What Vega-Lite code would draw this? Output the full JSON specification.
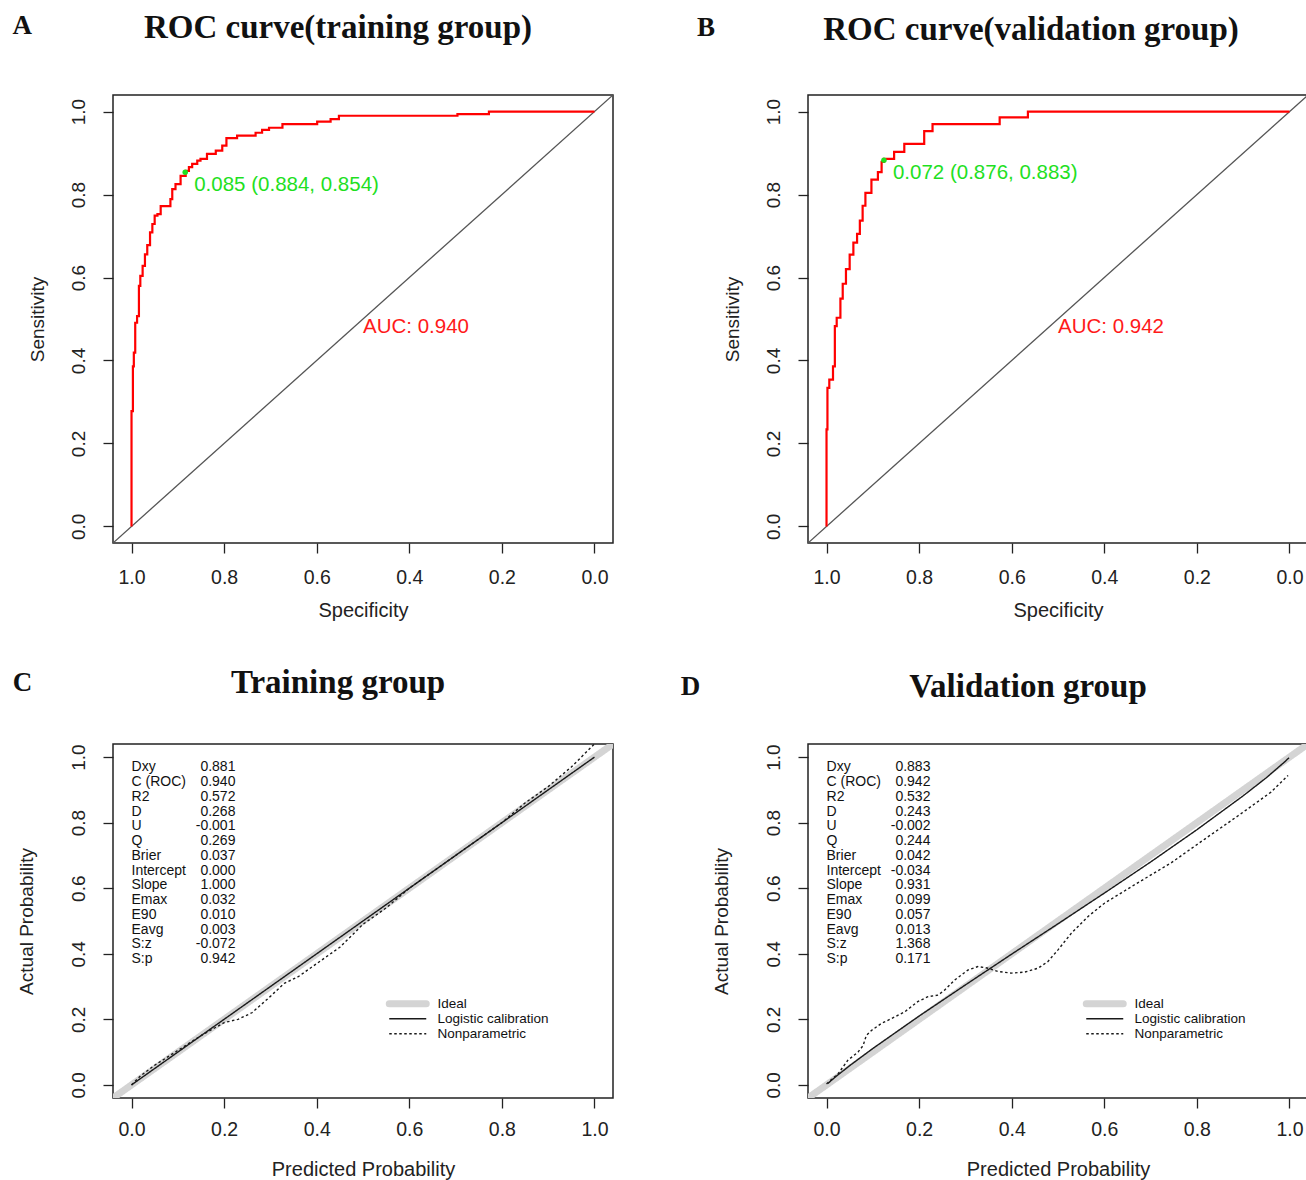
{
  "$schema": "https://vega.github.io/schema/vega-lite/v6.json",
  "autosize": {"type": "none"},
  "padding": {"left": 113, "top": 95, "right": 1193, "bottom": 1085},
  "background": "white",
  "config": {
    "font": "Liberation Sans",
    "view": {"stroke": "#222", "strokeWidth": 1.5},
    "axis": {"grid": false, "domain": false, "tickColor": "#222", "tickSize": 10, "tickWidth": 1.3, "labelFont": "Liberation Sans", "labelFontSize": 19.5, "labelColor": "#222", "titleFont": "Liberation Sans", "titleFontSize": 20, "titleFontWeight": "normal", "titleColor": "#222", "labelFlush": false, "labelOverlap": false},
    "axisY": {"labelAngle": 270, "labelAlign": "center", "labelBaseline": "bottom", "titleFontSize": 19, "labelFontSize": 19},
    "title": {"font": "Liberation Serif", "fontSize": 33, "fontWeight": "bold", "color": "#111", "anchor": "middle"},
    "legend": {"labelFont": "Liberation Sans"}
  },
  "datasets": {
    "rocA": [
      {"x": 1.0, "y": 0.0}, {"x": 0.997, "y": 0.278}, {"x": 0.995, "y": 0.386}, {"x": 0.992, "y": 0.419},
      {"x": 0.988, "y": 0.491}, {"x": 0.984, "y": 0.507}, {"x": 0.981, "y": 0.58}, {"x": 0.976, "y": 0.604},
      {"x": 0.971, "y": 0.628}, {"x": 0.966, "y": 0.656}, {"x": 0.96, "y": 0.678}, {"x": 0.955, "y": 0.709},
      {"x": 0.95, "y": 0.729}, {"x": 0.944, "y": 0.749}, {"x": 0.937, "y": 0.753}, {"x": 0.916, "y": 0.772},
      {"x": 0.912, "y": 0.789}, {"x": 0.905, "y": 0.813}, {"x": 0.894, "y": 0.825}, {"x": 0.883, "y": 0.845},
      {"x": 0.876, "y": 0.857}, {"x": 0.869, "y": 0.866}, {"x": 0.858, "y": 0.874}, {"x": 0.851, "y": 0.882},
      {"x": 0.837, "y": 0.886}, {"x": 0.818, "y": 0.898}, {"x": 0.804, "y": 0.906}, {"x": 0.795, "y": 0.918},
      {"x": 0.772, "y": 0.936}, {"x": 0.732, "y": 0.942}, {"x": 0.718, "y": 0.949}, {"x": 0.703, "y": 0.956},
      {"x": 0.674, "y": 0.961}, {"x": 0.599, "y": 0.97}, {"x": 0.57, "y": 0.976}, {"x": 0.552, "y": 0.982},
      {"x": 0.296, "y": 0.99}, {"x": 0.228, "y": 0.994}, {"x": 0.0, "y": 1.0}
    ],
    "rocB": [
      {"x": 1.0, "y": 0.0}, {"x": 0.998, "y": 0.234}, {"x": 0.994, "y": 0.334}, {"x": 0.986, "y": 0.354},
      {"x": 0.982, "y": 0.386}, {"x": 0.978, "y": 0.483}, {"x": 0.97, "y": 0.503}, {"x": 0.965, "y": 0.549},
      {"x": 0.958, "y": 0.585}, {"x": 0.95, "y": 0.62}, {"x": 0.942, "y": 0.655}, {"x": 0.934, "y": 0.684},
      {"x": 0.928, "y": 0.705}, {"x": 0.922, "y": 0.737}, {"x": 0.916, "y": 0.773}, {"x": 0.903, "y": 0.804},
      {"x": 0.889, "y": 0.836}, {"x": 0.881, "y": 0.854}, {"x": 0.876, "y": 0.879}, {"x": 0.854, "y": 0.886},
      {"x": 0.832, "y": 0.903}, {"x": 0.789, "y": 0.922}, {"x": 0.771, "y": 0.953}, {"x": 0.626, "y": 0.97},
      {"x": 0.565, "y": 0.986}, {"x": 0.0, "y": 1.0}
    ],
    "diag": [{"x": 1.04, "y": -0.04}, {"x": -0.04, "y": 1.04}],
    "calC": [
      {"curve": "Ideal", "x": -0.04, "y": -0.04}, {"curve": "Ideal", "x": 1.04, "y": 1.04},
      {"curve": "Logistic calibration", "x": 0.0, "y": 0.0}, {"curve": "Logistic calibration", "x": 1.0, "y": 1.0},
      {"curve": "Nonparametric", "x": 0.0, "y": 0.0}, {"curve": "Nonparametric", "x": 0.02, "y": 0.028},
      {"curve": "Nonparametric", "x": 0.05, "y": 0.06}, {"curve": "Nonparametric", "x": 0.1, "y": 0.105},
      {"curve": "Nonparametric", "x": 0.15, "y": 0.15}, {"curve": "Nonparametric", "x": 0.2, "y": 0.19},
      {"curve": "Nonparametric", "x": 0.23, "y": 0.2}, {"curve": "Nonparametric", "x": 0.26, "y": 0.22},
      {"curve": "Nonparametric", "x": 0.3, "y": 0.27}, {"curve": "Nonparametric", "x": 0.33, "y": 0.31},
      {"curve": "Nonparametric", "x": 0.36, "y": 0.33}, {"curve": "Nonparametric", "x": 0.4, "y": 0.37},
      {"curve": "Nonparametric", "x": 0.45, "y": 0.42}, {"curve": "Nonparametric", "x": 0.5, "y": 0.49},
      {"curve": "Nonparametric", "x": 0.55, "y": 0.54}, {"curve": "Nonparametric", "x": 0.6, "y": 0.6},
      {"curve": "Nonparametric", "x": 0.65, "y": 0.65}, {"curve": "Nonparametric", "x": 0.7, "y": 0.7},
      {"curve": "Nonparametric", "x": 0.75, "y": 0.75}, {"curve": "Nonparametric", "x": 0.8, "y": 0.8},
      {"curve": "Nonparametric", "x": 0.85, "y": 0.86}, {"curve": "Nonparametric", "x": 0.9, "y": 0.91},
      {"curve": "Nonparametric", "x": 0.95, "y": 0.97}, {"curve": "Nonparametric", "x": 1.0, "y": 1.04}
    ],
    "calD": [
      {"curve": "Ideal", "x": -0.04, "y": -0.04}, {"curve": "Ideal", "x": 1.04, "y": 1.04},
      {"curve": "Logistic calibration", "x": 0.003, "y": 0.0043}, {"curve": "Logistic calibration", "x": 0.01, "y": 0.0132},
      {"curve": "Logistic calibration", "x": 0.02, "y": 0.0252}, {"curve": "Logistic calibration", "x": 0.05, "y": 0.0587},
      {"curve": "Logistic calibration", "x": 0.1, "y": 0.111}, {"curve": "Logistic calibration", "x": 0.2, "y": 0.21},
      {"curve": "Logistic calibration", "x": 0.3, "y": 0.305}, {"curve": "Logistic calibration", "x": 0.4, "y": 0.399},
      {"curve": "Logistic calibration", "x": 0.5, "y": 0.4915}, {"curve": "Logistic calibration", "x": 0.6, "y": 0.585},
      {"curve": "Logistic calibration", "x": 0.7, "y": 0.68}, {"curve": "Logistic calibration", "x": 0.8, "y": 0.7785},
      {"curve": "Logistic calibration", "x": 0.9, "y": 0.882}, {"curve": "Logistic calibration", "x": 0.95, "y": 0.937},
      {"curve": "Logistic calibration", "x": 0.99, "y": 0.986}, {"curve": "Logistic calibration", "x": 0.999, "y": 0.998},
      {"curve": "Nonparametric", "x": 0.0, "y": 0.003}, {"curve": "Nonparametric", "x": 0.025, "y": 0.034},
      {"curve": "Nonparametric", "x": 0.046, "y": 0.075}, {"curve": "Nonparametric", "x": 0.068, "y": 0.1},
      {"curve": "Nonparametric", "x": 0.079, "y": 0.12}, {"curve": "Nonparametric", "x": 0.086, "y": 0.151},
      {"curve": "Nonparametric", "x": 0.097, "y": 0.166}, {"curve": "Nonparametric", "x": 0.118, "y": 0.187},
      {"curve": "Nonparametric", "x": 0.147, "y": 0.207}, {"curve": "Nonparametric", "x": 0.169, "y": 0.223},
      {"curve": "Nonparametric", "x": 0.197, "y": 0.254}, {"curve": "Nonparametric", "x": 0.219, "y": 0.269},
      {"curve": "Nonparametric", "x": 0.241, "y": 0.274}, {"curve": "Nonparametric", "x": 0.255, "y": 0.289},
      {"curve": "Nonparametric", "x": 0.277, "y": 0.32}, {"curve": "Nonparametric", "x": 0.305, "y": 0.35},
      {"curve": "Nonparametric", "x": 0.327, "y": 0.361}, {"curve": "Nonparametric", "x": 0.349, "y": 0.356},
      {"curve": "Nonparametric", "x": 0.37, "y": 0.346}, {"curve": "Nonparametric", "x": 0.399, "y": 0.341},
      {"curve": "Nonparametric", "x": 0.428, "y": 0.344}, {"curve": "Nonparametric", "x": 0.457, "y": 0.356},
      {"curve": "Nonparametric", "x": 0.478, "y": 0.376}, {"curve": "Nonparametric", "x": 0.5, "y": 0.412},
      {"curve": "Nonparametric", "x": 0.529, "y": 0.463}, {"curve": "Nonparametric", "x": 0.565, "y": 0.514},
      {"curve": "Nonparametric", "x": 0.601, "y": 0.555}, {"curve": "Nonparametric", "x": 0.637, "y": 0.586},
      {"curve": "Nonparametric", "x": 0.673, "y": 0.617}, {"curve": "Nonparametric", "x": 0.745, "y": 0.678},
      {"curve": "Nonparametric", "x": 0.817, "y": 0.75}, {"curve": "Nonparametric", "x": 0.889, "y": 0.821},
      {"curve": "Nonparametric", "x": 0.96, "y": 0.893}, {"curve": "Nonparametric", "x": 0.997, "y": 0.944}
    ],
    "spikeC": [
      {"x": 0.002, "h": 0.152}, {"x": 0.009, "h": 0.04}, {"x": 0.015, "h": 0.022}, {"x": 0.021, "h": 0.012},
      {"x": 0.028, "h": 0.008}, {"x": 0.035, "h": 0.007}, {"x": 0.043, "h": 0.006}, {"x": 0.05, "h": 0.006},
      {"x": 0.058, "h": 0.006}, {"x": 0.066, "h": 0.006}, {"x": 0.073, "h": 0.006}, {"x": 0.081, "h": 0.006},
      {"x": 0.089, "h": 0.006}, {"x": 0.097, "h": 0.006}, {"x": 0.105, "h": 0.006}, {"x": 0.113, "h": 0.006},
      {"x": 0.121, "h": 0.006}, {"x": 0.13, "h": 0.006}, {"x": 0.138, "h": 0.006}, {"x": 0.147, "h": 0.006},
      {"x": 0.155, "h": 0.006}, {"x": 0.164, "h": 0.006}, {"x": 0.172, "h": 0.006}, {"x": 0.181, "h": 0.006},
      {"x": 0.19, "h": 0.006}, {"x": 0.199, "h": 0.006}, {"x": 0.208, "h": 0.006}, {"x": 0.218, "h": 0.006},
      {"x": 0.227, "h": 0.006}, {"x": 0.237, "h": 0.006}, {"x": 0.247, "h": 0.006}, {"x": 0.257, "h": 0.006},
      {"x": 0.268, "h": 0.006}, {"x": 0.279, "h": 0.006}, {"x": 0.29, "h": 0.006}, {"x": 0.318, "h": 0.006},
      {"x": 0.328, "h": 0.006}, {"x": 0.338, "h": 0.006}, {"x": 0.36, "h": 0.006}, {"x": 0.372, "h": 0.006},
      {"x": 0.384, "h": 0.006}, {"x": 0.396, "h": 0.006}, {"x": 0.43, "h": 0.006}, {"x": 0.47, "h": 0.006},
      {"x": 0.515, "h": 0.006}, {"x": 0.528, "h": 0.006}, {"x": 0.541, "h": 0.006}, {"x": 0.554, "h": 0.006},
      {"x": 0.567, "h": 0.006}, {"x": 0.58, "h": 0.006}, {"x": 0.593, "h": 0.006}, {"x": 0.606, "h": 0.006},
      {"x": 0.619, "h": 0.006}, {"x": 0.632, "h": 0.006}, {"x": 0.645, "h": 0.006}, {"x": 0.663, "h": 0.006},
      {"x": 0.699, "h": 0.006}, {"x": 0.731, "h": 0.006}, {"x": 0.742, "h": 0.006}, {"x": 0.754, "h": 0.006},
      {"x": 0.766, "h": 0.006}, {"x": 0.781, "h": 0.006}, {"x": 0.8, "h": 0.006}, {"x": 0.856, "h": 0.006},
      {"x": 0.868, "h": 0.006}, {"x": 0.88, "h": 0.006}, {"x": 0.892, "h": 0.006}, {"x": 0.904, "h": 0.006},
      {"x": 0.916, "h": 0.006}, {"x": 0.928, "h": 0.006}, {"x": 0.94, "h": 0.006}, {"x": 0.952, "h": 0.006},
      {"x": 0.964, "h": 0.006}, {"x": 0.976, "h": 0.006}, {"x": 0.988, "h": 0.006}, {"x": 0.994, "h": 0.006}
    ],
    "spikeD": [
      {"x": 0.0, "h": 0.148}, {"x": 0.007, "h": 0.036}, {"x": 0.014, "h": 0.015}, {"x": 0.021, "h": 0.008},
      {"x": 0.03, "h": 0.006}, {"x": 0.037, "h": 0.006}, {"x": 0.045, "h": 0.006}, {"x": 0.052, "h": 0.006},
      {"x": 0.06, "h": 0.006}, {"x": 0.067, "h": 0.006}, {"x": 0.075, "h": 0.006}, {"x": 0.083, "h": 0.006},
      {"x": 0.09, "h": 0.006}, {"x": 0.098, "h": 0.006}, {"x": 0.105, "h": 0.006}, {"x": 0.112, "h": 0.006},
      {"x": 0.12, "h": 0.006}, {"x": 0.128, "h": 0.006}, {"x": 0.135, "h": 0.006}, {"x": 0.142, "h": 0.006},
      {"x": 0.15, "h": 0.006}, {"x": 0.158, "h": 0.006}, {"x": 0.165, "h": 0.006}, {"x": 0.172, "h": 0.006},
      {"x": 0.18, "h": 0.006}, {"x": 0.188, "h": 0.006}, {"x": 0.195, "h": 0.006}, {"x": 0.202, "h": 0.006},
      {"x": 0.21, "h": 0.006}, {"x": 0.218, "h": 0.006}, {"x": 0.225, "h": 0.006}, {"x": 0.232, "h": 0.006},
      {"x": 0.24, "h": 0.006}, {"x": 0.248, "h": 0.006}, {"x": 0.262, "h": 0.006}, {"x": 0.28, "h": 0.006},
      {"x": 0.302, "h": 0.006}, {"x": 0.32, "h": 0.006}, {"x": 0.334, "h": 0.006}, {"x": 0.359, "h": 0.006},
      {"x": 0.381, "h": 0.006}, {"x": 0.392, "h": 0.006}, {"x": 0.403, "h": 0.006}, {"x": 0.413, "h": 0.006},
      {"x": 0.431, "h": 0.006}, {"x": 0.442, "h": 0.006}, {"x": 0.453, "h": 0.006}, {"x": 0.482, "h": 0.006},
      {"x": 0.503, "h": 0.006}, {"x": 0.521, "h": 0.006}, {"x": 0.529, "h": 0.006}, {"x": 0.611, "h": 0.006},
      {"x": 0.622, "h": 0.006}, {"x": 0.633, "h": 0.006}, {"x": 0.64, "h": 0.006}, {"x": 0.673, "h": 0.006},
      {"x": 0.752, "h": 0.006}, {"x": 0.773, "h": 0.006}, {"x": 0.784, "h": 0.006}, {"x": 0.795, "h": 0.006},
      {"x": 0.806, "h": 0.006}, {"x": 0.849, "h": 0.006}, {"x": 0.86, "h": 0.006}, {"x": 0.871, "h": 0.006},
      {"x": 0.881, "h": 0.006}, {"x": 0.921, "h": 0.006}, {"x": 0.939, "h": 0.006}, {"x": 0.95, "h": 0.006},
      {"x": 0.961, "h": 0.006}, {"x": 0.993, "h": 0.006}
    ],
    "statsC": [{"x": 0, "xv": 0.2245, "y": 0.99, "labels": "Dxy\nC (ROC)\nR2\nD\nU\nQ\nBrier\nIntercept\nSlope\nEmax\nE90\nEavg\nS:z\nS:p", "vals": "0.881\n0.940\n0.572\n0.268\n-0.001\n0.269\n0.037\n0.000\n1.000\n0.032\n0.010\n0.003\n-0.072\n0.942"}],
    "statsD": [{"x": 0, "xv": 0.2245, "y": 0.99, "labels": "Dxy\nC (ROC)\nR2\nD\nU\nQ\nBrier\nIntercept\nSlope\nEmax\nE90\nEavg\nS:z\nS:p", "vals": "0.883\n0.942\n0.532\n0.243\n-0.002\n0.244\n0.042\n-0.034\n0.931\n0.099\n0.057\n0.013\n1.368\n0.171"}]
  },
  "columns": 2,
  "spacing": {"row": 201, "column": 195},
  "bounds": "flush",
  "resolve": {
    "scale": {"x": "independent", "y": "independent", "color": "independent", "strokeWidth": "independent", "strokeDash": "independent"},
    "legend": {"color": "independent", "strokeWidth": "independent", "strokeDash": "independent"}
  },
  "concat": [
    {
      "width": 500, "height": 448,
      "title": {"text": "ROC curve(training group)", "dx": -25, "offset": -33},
      "encoding": {
        "x": {"field": "x", "type": "quantitative", "scale": {"domain": [-0.04, 1.04], "reverse": true, "nice": false, "zero": false}, "axis": {"title": "Specificity", "values": [0, 0.2, 0.4, 0.6, 0.8, 1], "format": ".1f", "labelPadding": 15, "titlePadding": 14}},
        "y": {"field": "y", "type": "quantitative", "scale": {"domain": [-0.04, 1.04], "nice": false, "zero": false}, "axis": {"title": "Sensitivity", "values": [0, 0.2, 0.4, 0.6, 0.8, 1], "format": ".1f", "labelPadding": 15, "titlePadding": 22}}
      },
      "layer": [
        {"data": {"name": "diag"}, "mark": {"type": "line", "color": "#555", "strokeWidth": 1.3, "clip": true}},
        {"data": {"name": "rocA"}, "mark": {"type": "line", "interpolate": "step-before", "color": "#ff0000", "strokeWidth": 2.2}, "encoding": {"order": {"field": "x", "sort": "descending"}}},
        {"data": {"values": [{"x": 0.884, "y": 0.854, "label": "0.085 (0.884, 0.854)"}]}, "mark": {"type": "point", "filled": true, "color": "#1fe01f", "size": 30, "opacity": 1}},
        {"data": {"values": [{"x": 0.884, "y": 0.854, "label": "0.085 (0.884, 0.854)"}]}, "mark": {"type": "text", "align": "left", "baseline": "middle", "dx": 9, "dy": 13, "fontSize": 20.5, "color": "#1fe01f"}, "encoding": {"text": {"field": "label"}}},
        {"data": {"values": [{"x": 0.5, "y": 0.48, "label": "AUC: 0.940"}]}, "mark": {"type": "text", "align": "left", "baseline": "middle", "fontSize": 20.5, "color": "#ff1a1a"}, "encoding": {"text": {"field": "label"}}},
        {"data": {"values": [{"x": 1.257, "y": 1.207, "label": "A"}]}, "mark": {"type": "text", "align": "left", "baseline": "middle", "font": "Liberation Serif", "fontWeight": "bold", "fontSize": 27, "color": "#111"}, "encoding": {"text": {"field": "label"}}}
      ]
    },
    {
      "width": 500, "height": 448,
      "title": {"text": "ROC curve(validation group)", "dx": -27, "offset": -33},
      "encoding": {
        "x": {"field": "x", "type": "quantitative", "scale": {"domain": [-0.04, 1.04], "reverse": true, "nice": false, "zero": false}, "axis": {"title": "Specificity", "values": [0, 0.2, 0.4, 0.6, 0.8, 1], "format": ".1f", "labelPadding": 15, "titlePadding": 14}},
        "y": {"field": "y", "type": "quantitative", "scale": {"domain": [-0.04, 1.04], "nice": false, "zero": false}, "axis": {"title": "Sensitivity", "values": [0, 0.2, 0.4, 0.6, 0.8, 1], "format": ".1f", "labelPadding": 15, "titlePadding": 22}}
      },
      "layer": [
        {"data": {"name": "diag"}, "mark": {"type": "line", "color": "#555", "strokeWidth": 1.3, "clip": true}},
        {"data": {"name": "rocB"}, "mark": {"type": "line", "interpolate": "step-before", "color": "#ff0000", "strokeWidth": 2.2}, "encoding": {"order": {"field": "x", "sort": "descending"}}},
        {"data": {"values": [{"x": 0.876, "y": 0.883, "label": "0.072 (0.876, 0.883)"}]}, "mark": {"type": "point", "filled": true, "color": "#1fe01f", "size": 30, "opacity": 1}},
        {"data": {"values": [{"x": 0.876, "y": 0.883, "label": "0.072 (0.876, 0.883)"}]}, "mark": {"type": "text", "align": "left", "baseline": "middle", "dx": 9, "dy": 13, "fontSize": 20.5, "color": "#1fe01f"}, "encoding": {"text": {"field": "label"}}},
        {"data": {"values": [{"x": 0.5, "y": 0.48, "label": "AUC: 0.942"}]}, "mark": {"type": "text", "align": "left", "baseline": "middle", "fontSize": 20.5, "color": "#ff1a1a"}, "encoding": {"text": {"field": "label"}}},
        {"data": {"values": [{"x": 1.28, "y": 1.202, "label": "B"}]}, "mark": {"type": "text", "align": "left", "baseline": "middle", "font": "Liberation Serif", "fontWeight": "bold", "fontSize": 27, "color": "#111"}, "encoding": {"text": {"field": "label"}}}
      ]
    },
    {
      "width": 500, "height": 354,
      "title": {"text": "Training group", "dx": -25, "offset": -31},
      "encoding": {
        "x": {"field": "x", "type": "quantitative", "scale": {"domain": [-0.04, 1.04], "nice": false, "zero": false}, "axis": {"title": "Predicted Probability", "values": [0, 0.2, 0.4, 0.6, 0.8, 1], "format": ".1f", "labelPadding": 12, "titlePadding": 21}},
        "y": {"field": "y", "type": "quantitative", "scale": {"domain": [-0.04, 1.04], "nice": false, "zero": false}, "axis": {"title": "Actual Probability", "values": [0, 0.2, 0.4, 0.6, 0.8, 1], "format": ".1f", "labelPadding": 15, "titlePadding": 33}}
      },
      "layer": [
        {"data": {"name": "calC"}, "mark": {"type": "line", "clip": true},
         "encoding": {
           "color": {"field": "curve", "type": "nominal", "scale": {"domain": ["Ideal", "Logistic calibration", "Nonparametric"], "range": ["#d4d4d4", "#1a1a1a", "#1a1a1a"]},
             "legend": {"title": null, "orient": "none", "legendX": 288, "legendY": 253, "symbolType": "M-18.5,0H18.5", "symbolSize": 4, "labelFontSize": 13.5, "labelColor": "#111", "rowPadding": 0, "padding": 0, "labelOffset": 23,
               "encode": {"symbols": {"update": {"strokeJoin": {"value": "round"}, "strokeCap": {"signal": "datum.value === 'Ideal' ? 'round' : 'butt'"}}}}}},
           "strokeWidth": {"field": "curve", "type": "nominal", "scale": {"type": "ordinal", "domain": ["Ideal", "Logistic calibration", "Nonparametric"], "range": [7, 1.4, 1.4]}},
           "strokeDash": {"field": "curve", "type": "nominal", "scale": {"domain": ["Ideal", "Logistic calibration", "Nonparametric"], "range": [[1, 0], [1, 0], [2.5, 2.5]]}}
         }},
        {"data": {"name": "spikeC"}, "mark": {"type": "rule", "color": "#111", "strokeWidth": 1.2}, "encoding": {"y": {"datum": 0}, "y2": {"field": "h"}}},
        {"data": {"name": "statsC"}, "mark": {"type": "text", "align": "left", "baseline": "top", "fontSize": 14, "lineHeight": 14.75, "lineBreak": "\n", "color": "#111"}, "encoding": {"text": {"field": "labels", "type": "nominal"}}},
        {"data": {"name": "statsC"}, "mark": {"type": "text", "align": "right", "baseline": "top", "fontSize": 14, "lineHeight": 14.75, "lineBreak": "\n", "color": "#111"}, "encoding": {"x": {"field": "xv", "type": "quantitative"}, "text": {"field": "vals", "type": "nominal"}}},
        {"data": {"values": [{"x": -0.2566, "y": 1.2256, "label": "C"}]}, "mark": {"type": "text", "align": "left", "baseline": "middle", "font": "Liberation Serif", "fontWeight": "bold", "fontSize": 27, "color": "#111"}, "encoding": {"text": {"field": "label"}}}
      ]
    },
    {
      "width": 500, "height": 354,
      "title": {"text": "Validation group", "dx": -30, "offset": -31},
      "encoding": {
        "x": {"field": "x", "type": "quantitative", "scale": {"domain": [-0.04, 1.04], "nice": false, "zero": false}, "axis": {"title": "Predicted Probability", "values": [0, 0.2, 0.4, 0.6, 0.8, 1], "format": ".1f", "labelPadding": 12, "titlePadding": 21}},
        "y": {"field": "y", "type": "quantitative", "scale": {"domain": [-0.04, 1.04], "nice": false, "zero": false}, "axis": {"title": "Actual Probability", "values": [0, 0.2, 0.4, 0.6, 0.8, 1], "format": ".1f", "labelPadding": 15, "titlePadding": 33}}
      },
      "layer": [
        {"data": {"name": "calD"}, "mark": {"type": "line", "clip": true},
         "encoding": {
           "color": {"field": "curve", "type": "nominal", "scale": {"domain": ["Ideal", "Logistic calibration", "Nonparametric"], "range": ["#d4d4d4", "#1a1a1a", "#1a1a1a"]},
             "legend": {"title": null, "orient": "none", "legendX": 290, "legendY": 253, "symbolType": "M-18.5,0H18.5", "symbolSize": 4, "labelFontSize": 13.5, "labelColor": "#111", "rowPadding": 0, "padding": 0, "labelOffset": 23,
               "encode": {"symbols": {"update": {"strokeJoin": {"value": "round"}, "strokeCap": {"signal": "datum.value === 'Ideal' ? 'round' : 'butt'"}}}}}},
           "strokeWidth": {"field": "curve", "type": "nominal", "scale": {"type": "ordinal", "domain": ["Ideal", "Logistic calibration", "Nonparametric"], "range": [7, 1.4, 1.4]}},
           "strokeDash": {"field": "curve", "type": "nominal", "scale": {"domain": ["Ideal", "Logistic calibration", "Nonparametric"], "range": [[1, 0], [1, 0], [2.5, 2.5]]}}
         }},
        {"data": {"name": "spikeD"}, "mark": {"type": "rule", "color": "#111", "strokeWidth": 1.2}, "encoding": {"y": {"datum": 0}, "y2": {"field": "h"}}},
        {"data": {"name": "statsD"}, "mark": {"type": "text", "align": "left", "baseline": "top", "fontSize": 14, "lineHeight": 14.75, "lineBreak": "\n", "color": "#111"}, "encoding": {"text": {"field": "labels", "type": "nominal"}}},
        {"data": {"name": "statsD"}, "mark": {"type": "text", "align": "right", "baseline": "top", "fontSize": 14, "lineHeight": 14.75, "lineBreak": "\n", "color": "#111"}, "encoding": {"x": {"field": "xv", "type": "quantitative"}, "text": {"field": "vals", "type": "nominal"}}},
        {"data": {"values": [{"x": -0.315, "y": 1.213, "label": "D"}]}, "mark": {"type": "text", "align": "left", "baseline": "middle", "font": "Liberation Serif", "fontWeight": "bold", "fontSize": 27, "color": "#111"}, "encoding": {"text": {"field": "label"}}}
      ]
    }
  ]
}
